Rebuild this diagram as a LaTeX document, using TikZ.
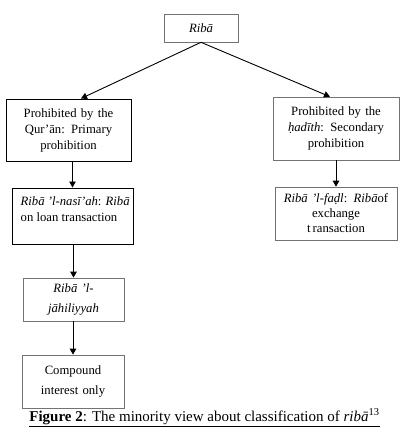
\documentclass[tikz,border=0pt]{standalone}
\usepackage{fontspec}
\setmainfont{Liberation Serif}
\usetikzlibrary{arrows.meta,shadows}
\newcommand\bfnt{\fontsize{12.7}{16}\selectfont}
\newcommand\bfntw{\fontsize{12.7}{20}\selectfont}
\tikzset{
  box/.style={draw=black, line width=1pt, rectangle, inner sep=0pt, align=center, font=\bfnt, fill=white},
  sbox/.style={draw=black!55, line width=0.6pt, rectangle, inner sep=0pt, align=center, font=\bfnt, fill=white,
    drop shadow={shadow xshift=1.2pt, shadow yshift=-1.2pt, fill=black!85, opacity=1}},
  lbox/.style={draw=black!55, line width=0.7pt, rectangle, inner sep=0pt, align=center, font=\bfntw, fill=white},
  arr/.style={-{Triangle[length=6pt,width=6.5pt]}, line width=0.9pt, black}
}
\begin{document}
\begin{tikzpicture}[x=1pt,y=-1pt]
\useasboundingbox[fill=white] (0,0) rectangle (408,437);
\node[sbox, minimum width=74pt, minimum height=28pt] (top) at (201,28) {\textit{Ribā}};
\node[box, minimum width=125pt, minimum height=62pt, text width=117pt] (L1) at (68.5,130) {Prohibited by the\\ Qur’ān: Primary\\ prohibition};
\node[sbox, minimum width=126pt, minimum height=63pt, text width=120pt] (R1) at (336,128.5) {Prohibited by the\\ \textit{ḥadīth}: Secondary\\ prohibition};
\node[box, minimum width=121pt, minimum height=56pt] (L2) at (72.5,216) {};
\node[anchor=north west, inner sep=0pt, align=left, font=\bfnt] (L2t) at ([xshift=9pt,yshift=-9pt]L2.north west) {\textit{Ribā ’l-nasī’ah}: \textit{Ribā}\\ on loan transaction};
\node[sbox, minimum width=122pt, minimum height=53pt, text width=118pt, font=\fontsize{12.7}{15}\selectfont] (R2) at (336,213.5) {\textit{Ribā ’l-faḍl}: \textit{Ribā}of\\ exchange\\ t\kern2pt ransaction};
\node[lbox, minimum width=101pt, minimum height=43pt, text width=97pt] (L3) at (73.5,299.5) {\textit{Ribā ’l-}\\ \textit{jāhiliyyah}};
\node[lbox, minimum width=102pt, minimum height=53pt, text width=98pt] (L4) at (73,381.5) {Compound\\ interest only};
\node[font=\fontsize{15}{17}\selectfont, anchor=base, inner sep=0pt] (cap) at (204.5,421) {\underline{\textbf{Figure 2}: The minority view about classification of \textit{ribā}\textsuperscript{13}}};
\draw[arr] (top.south) -- ([xshift=12.5pt]L1.north);
\draw[arr] (top.south) -- ([xshift=-6pt]R1.north);
\draw[arr] (L1.south -| L2.north) -- (L2.north);
\draw[arr] (R1.south) -- (R2.north);
\draw[arr] (L2.south -| L3.north) -- (L3.north);
\draw[arr] (L3.south -| L4.north) -- (L4.north);
\end{tikzpicture}
\end{document}
